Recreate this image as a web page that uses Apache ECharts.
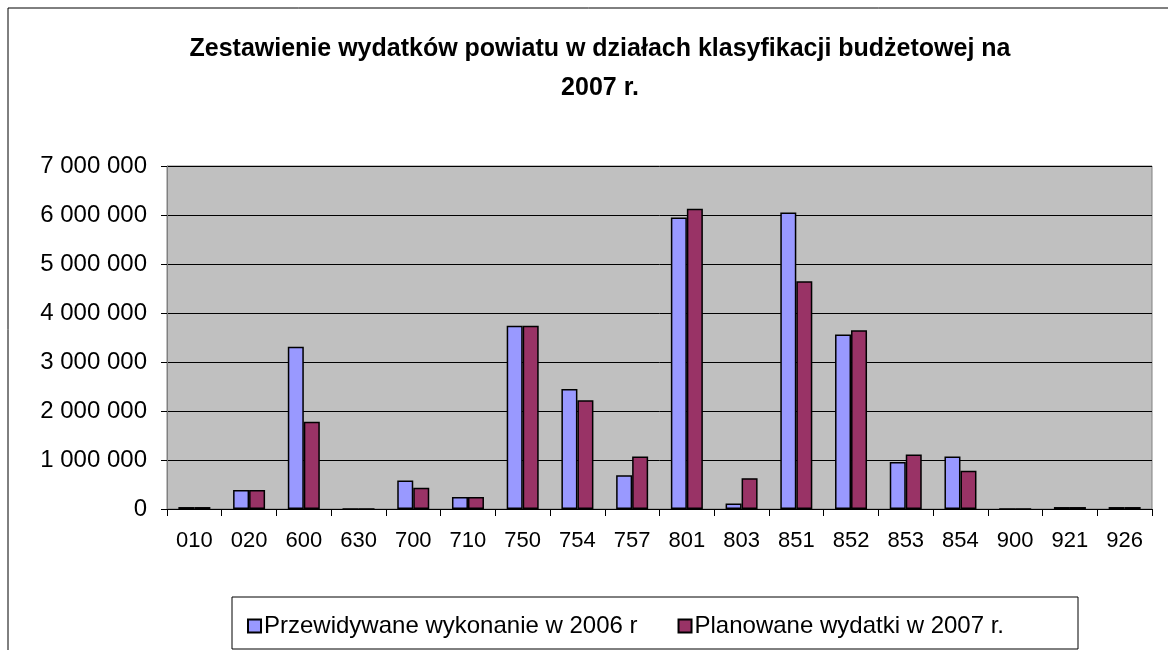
<!DOCTYPE html>
<html>
<head>
<meta charset="utf-8">
<script src="https://cdn.jsdelivr.net/npm/echarts@6/dist/echarts.min.js"></script>
<style>
  html, body { margin: 0; padding: 0; background: #fff; }
  #chart { width: 1168px; height: 650px; }
</style>
</head>
<body>
<div id="chart"></div>
<script>
// działy klasyfikacji budżetowej
const categories = ['010', '020', '600', '630', '700', '710', '750', '754', '757', '801', '803', '851', '852', '853', '854', '900', '921', '926'];
// Przewidywane wykonanie w 2006 r
const values2006 = [40000, 390000, 3310000, 0, 580000, 245000, 3740000, 2450000, 690000, 5950000, 110000, 6050000, 3560000, 960000, 1070000, 0, 40000, 40000];
// Planowane wydatki w 2007 r.
const values2007 = [40000, 390000, 1780000, 0, 435000, 245000, 3740000, 2220000, 1070000, 6130000, 630000, 4650000, 3650000, 1110000, 780000, 0, 40000, 40000];
const seriesNames = ['Przewidywane wykonanie w 2006 r', 'Planowane wydatki w 2007 r.'];
const titleText = 'Zestawienie wydatków powiatu w działach klasyfikacji budżetowej na\n2007 r.';

const chart = echarts.init(document.getElementById('chart'));

// 1 000 000 -> "1 000 000"
const fmt = (v) => String(v).replace(/\B(?=(\d{3})+(?!\d))/g, ' ');

const option = {
  animation: false,
  textStyle: { fontFamily: "'Liberation Sans', Arial, sans-serif", color: '#000' },
  graphic: [
    {
      type: 'rect',
      shape: { x: 8, y: 8, width: 1300, height: 800 },
      style: { fill: 'none', stroke: '#000', lineWidth: 1 },
      silent: true
    },
    {
      type: 'rect',
      shape: { x: 232, y: 597, width: 846, height: 52 },
      style: { fill: 'none', stroke: '#000', lineWidth: 1 },
      silent: true
    }
  ],
  title: {
    text: titleText,
    left: 595,
    top: 25,
    textAlign: 'center',
    textStyle: { fontSize: 25, fontWeight: 'bold', lineHeight: 39, color: '#000' }
  },
  legend: {
    data: seriesNames,
    left: 242,
    top: 609,
    icon: 'rect',
    itemWidth: 13,
    itemHeight: 13,
    itemGap: 40,
    textStyle: { fontSize: 24, color: '#000', padding: [0, 0, 0, -2] }
  },
  grid: {
    left: 167,
    right: 16,
    top: 166,
    bottom: 141,
    show: true,
    backgroundColor: '#c0c0c0',
    borderColor: '#808080',
    borderWidth: 1
  },
  xAxis: {
    type: 'category',
    data: categories,
    axisLine: { lineStyle: { color: '#000', width: 1 } },
    axisTick: { show: true, length: 7, lineStyle: { color: '#000' } },
    axisLabel: { fontSize: 22, color: '#000', margin: 21, interval: 0 }
  },
  yAxis: {
    type: 'value',
    min: 0,
    max: 7000000,
    interval: 1000000,
    axisLine: { show: true, lineStyle: { color: '#808080' } },
    axisTick: { show: true, length: 6, lineStyle: { color: '#000' } },
    axisLabel: { fontSize: 24, color: '#000', margin: 20, formatter: fmt },
    splitLine: { lineStyle: { color: '#000', width: 1 } }
  },
  series: [
    {
      name: seriesNames[0],
      type: 'bar',
      data: values2006,
      barWidth: 16,
      barGap: '0%',
      itemStyle: { color: '#9999ff', borderColor: '#000', borderWidth: 1.5 }
    },
    {
      name: seriesNames[1],
      type: 'bar',
      data: values2007,
      barWidth: 16,
      barGap: '0%',
      itemStyle: { color: '#993366', borderColor: '#000', borderWidth: 1.5 }
    }
  ]
};

chart.setOption(option);
</script>
</body>
</html>
